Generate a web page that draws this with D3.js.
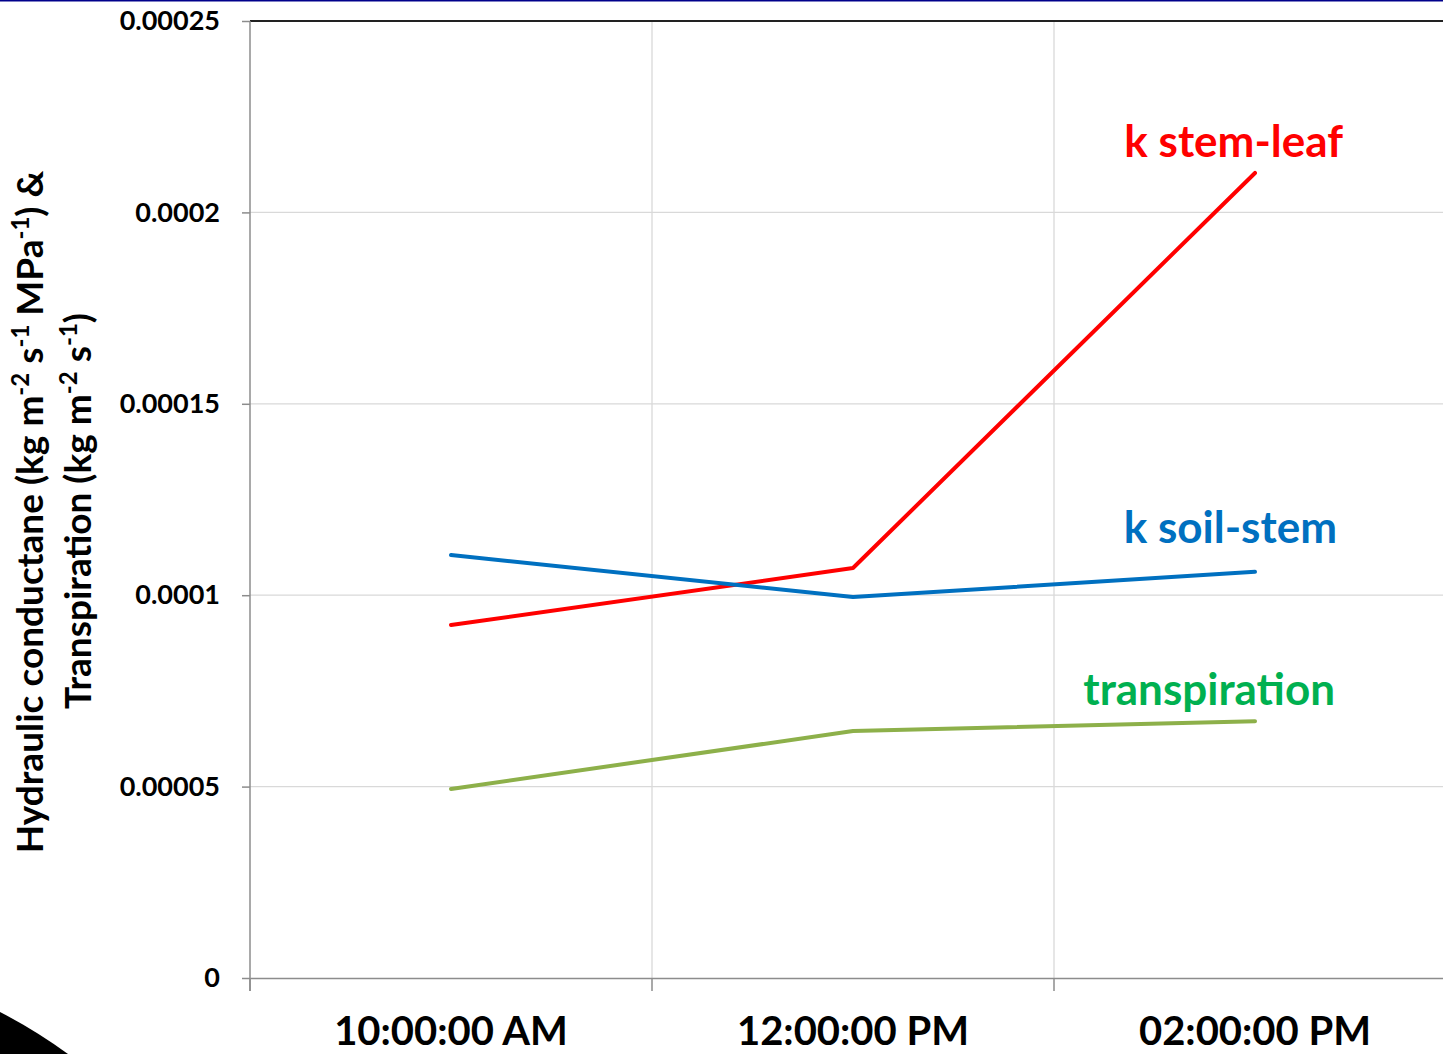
<!DOCTYPE html>
<html>
<head>
<meta charset="utf-8">
<script src="https://cdn.jsdelivr.net/npm/d3@7"></script>
<style>
  body { margin: 0; background: #fff; }
  svg { display: block; font-family: Lato, "Open Sans", sans-serif; font-weight: bold; }
</style>
</head>
<body>
<svg id="chart" width="1443" height="1054"></svg>
<script>
const categories = ['10:00:00 AM', '12:00:00 PM', '02:00:00 PM']
const stemLeaf = [0.0000922, 0.0001071, 0.0002103]
const soilStem = [0.0001105, 0.0000995, 0.0001061]
const transpiration = [0.0000494, 0.0000645, 0.0000671]
const yTicks = [0, 0.00005, 0.0001, 0.00015, 0.0002, 0.00025]
const yTickLabels = ['0', '0.00005', '0.0001', '0.00015', '0.0002', '0.00025']

const series = [
  { name: 'k stem-leaf', values: stemLeaf, line: '#ff0000', text: '#ff0000', lx: 1343, ly: 157 },
  { name: 'k soil-stem', values: soilStem, line: '#0070c0', text: '#0070c0', lx: 1337, ly: 543 },
  { name: 'transpiration', values: transpiration, line: '#8db04a', text: '#00b050', lx: 1335, ly: 705 }
]

const svg = d3.select('#chart')
const pLeft = 250, pRight = 1456, pTop = 21, pBottom = 978

const x = d3.scaleBand().domain(categories).range([pLeft, pRight])
const y = d3.scaleLinear().domain([0, 0.00025]).range([pBottom, pTop])

// top blue rule
svg.append('line').attr('x1', 0).attr('x2', 1443).attr('y1', 0.5).attr('y2', 0.5)
  .attr('stroke', '#00008b').attr('stroke-width', 2)

// corner shape
svg.append('path')
  .attr('d', 'M0,1012 Q35,1030 68,1054 L0,1054 Z')
  .attr('fill', '#000')

// horizontal grid
svg.append('g').selectAll('line')
  .data(yTicks.slice(1, -1))
  .enter().append('line')
    .attr('x1', pLeft).attr('x2', pRight)
    .attr('y1', d => y(d)).attr('y2', d => y(d))
    .attr('stroke', '#d9d9d9').attr('stroke-width', 1.3)

// vertical grid
svg.append('g').selectAll('line')
  .data(categories.slice(1))
  .enter().append('line')
    .attr('x1', d => x(d)).attr('x2', d => x(d))
    .attr('y1', pTop).attr('y2', pBottom)
    .attr('stroke', '#d9d9d9').attr('stroke-width', 1.3)

// top border
svg.append('line').attr('x1', pLeft).attr('x2', 1443).attr('y1', pTop).attr('y2', pTop)
  .attr('stroke', '#222').attr('stroke-width', 2)

// y axis
const yAxis = d3.axisLeft(y).tickValues(yTicks).tickFormat((d, i) => yTickLabels[i]).tickSize(8).tickPadding(22)
const gy = svg.append('g').attr('transform', `translate(${pLeft},0)`).call(yAxis)
  .attr('font-family', null).attr('font-size', null)
gy.select('.domain').attr('stroke', '#8c8c8c').attr('stroke-width', 1.5).attr('d', `M0,${pTop}V${pBottom + 13}`)
gy.selectAll('.tick line').attr('stroke', '#8c8c8c').attr('stroke-width', 1.5)
gy.selectAll('.tick text').attr('fill', '#000').style('font-size', '27px').style('font-weight', 'bold')

// x axis
const xAxis = d3.axisBottom(x).tickSize(0).tickPadding(39)
const gx = svg.append('g').attr('transform', `translate(0,${pBottom})`).call(xAxis)
  .attr('font-family', null).attr('font-size', null)
gx.select('.domain').attr('stroke', '#8c8c8c').attr('stroke-width', 1.5)
gx.selectAll('.tick text').attr('fill', '#000').style('font-size', '40px').style('font-weight', 'bold')
svg.append('g').selectAll('line')
  .data(categories)
  .enter().append('line')
    .attr('x1', d => x(d)).attr('x2', d => x(d))
    .attr('y1', pBottom).attr('y2', pBottom + 13)
    .attr('stroke', '#8c8c8c').attr('stroke-width', 1.5)

// lines
const line = d3.line()
  .x((d, i) => x(categories[i]) + x.bandwidth() / 2)
  .y(d => y(d))

series.forEach(s => {
  svg.append('path')
    .datum(s.values)
    .attr('d', line)
    .attr('fill', 'none')
    .attr('stroke', s.line)
    .attr('stroke-width', 4)
    .attr('stroke-linecap', 'round')
    .attr('stroke-linejoin', 'round')
  svg.append('text')
    .attr('x', s.lx).attr('y', s.ly)
    .attr('text-anchor', 'end')
    .attr('fill', s.text)
    .style('font-size', '44px')
    .text(s.name)
})

// y title
const t1 = svg.append('text')
  .attr('transform', 'translate(43,512) rotate(-90)')
  .attr('text-anchor', 'middle')
  .style('font-size', '37px')
t1.append('tspan').text('Hydraulic conductane (kg m')
t1.append('tspan').attr('dy', -14).style('font-size', '24px').text('-2')
t1.append('tspan').attr('dy', 14).text(' s')
t1.append('tspan').attr('dy', -14).style('font-size', '24px').text('-1')
t1.append('tspan').attr('dy', 14).text(' MPa')
t1.append('tspan').attr('dy', -14).style('font-size', '24px').text('-1')
t1.append('tspan').attr('dy', 14).text(') &')

const t2 = svg.append('text')
  .attr('transform', 'translate(91,511) rotate(-90)')
  .attr('text-anchor', 'middle')
  .style('font-size', '37px')
t2.append('tspan').text('Transpiration  (kg m')
t2.append('tspan').attr('dy', -14).style('font-size', '24px').text('-2')
t2.append('tspan').attr('dy', 14).text(' s')
t2.append('tspan').attr('dy', -14).style('font-size', '24px').text('-1')
t2.append('tspan').attr('dy', 14).text(')')
</script>
</body>
</html>
